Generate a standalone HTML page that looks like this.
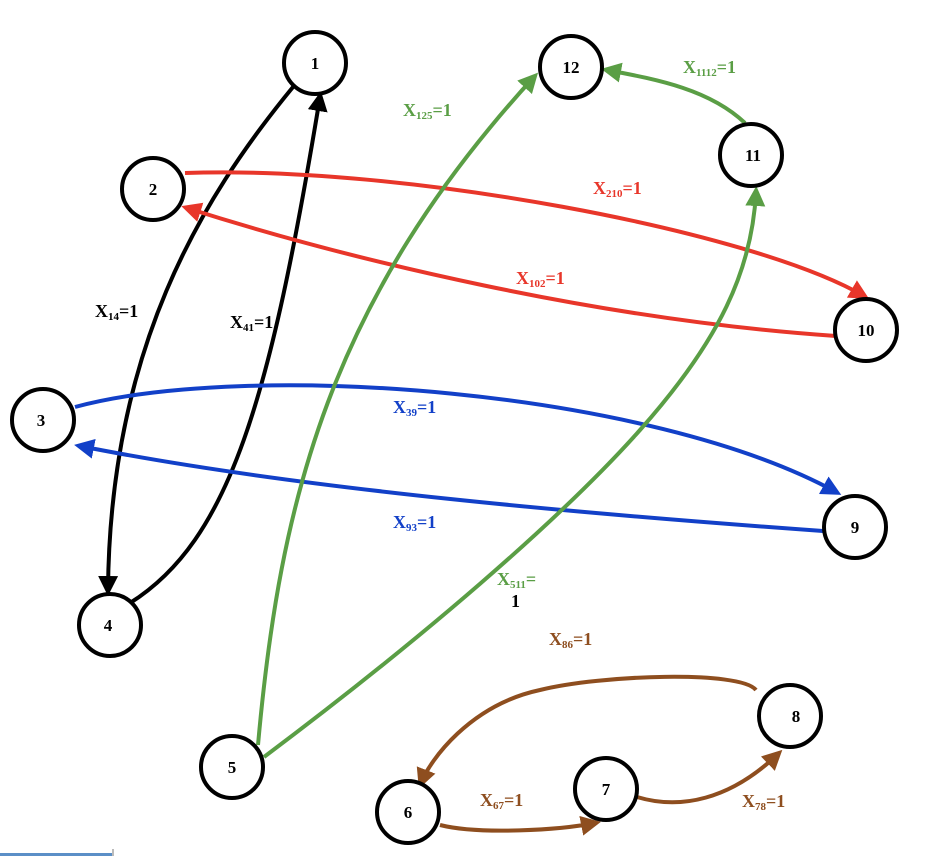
<!DOCTYPE html>
<html><head><style>
body{margin:0;background:#fff}
svg{display:block}
text{font-family:"Liberation Serif",serif;font-weight:bold}
.n{font-size:17px;text-anchor:middle}
.l{font-size:18px}
.s{font-size:11px}
</style></head><body>
<svg width="936" height="856" viewBox="0 0 936 856" xmlns="http://www.w3.org/2000/svg">
<defs>
<marker id="ak" markerWidth="5" markerHeight="5" refX="3.5" refY="2.5" orient="auto"><path d="M0,0 L5,2.5 L0,5 Z" fill="#000"/></marker>
<marker id="ar" markerWidth="5" markerHeight="5" refX="3.5" refY="2.5" orient="auto"><path d="M0,0 L5,2.5 L0,5 Z" fill="#e8362a"/></marker>
<marker id="ab" markerWidth="5" markerHeight="5" refX="3.5" refY="2.5" orient="auto"><path d="M0,0 L5,2.5 L0,5 Z" fill="#1240c8"/></marker>
<marker id="ag" markerWidth="5" markerHeight="5" refX="3.5" refY="2.5" orient="auto"><path d="M0,0 L5,2.5 L0,5 Z" fill="#5a9e45"/></marker>
<marker id="ao" markerWidth="5" markerHeight="5" refX="3.5" refY="2.5" orient="auto"><path d="M0,0 L5,2.5 L0,5 Z" fill="#8e4e1f"/></marker>
</defs>
<g fill="none" stroke-width="4">
<path d="M293,87 C200,200 110,350 108,590" stroke="#000" marker-end="url(#ak)"/>
<path d="M130,603 C230,540 270,400 320,97" stroke="#000" marker-end="url(#ak)"/>
<path d="M185,173 C400,165 750,230 864,296" stroke="#e8362a" marker-end="url(#ar)"/>
<path d="M836,336 C600,320 350,260 187,208" stroke="#e8362a" marker-end="url(#ar)"/>
<path d="M75,407 C250,360 650,390 836,492" stroke="#1240c8" marker-end="url(#ab)"/>
<path d="M823,531 C600,515 300,490 80,446" stroke="#1240c8" marker-end="url(#ab)"/>
<path d="M258,745 C280,500 330,300 534,77" stroke="#5a9e45" marker-end="url(#ag)"/>
<path d="M264,757 C420,640 560,520 640,430 C720,340 752,270 756,192" stroke="#5a9e45" marker-end="url(#ag)"/>
<path d="M745,123 C710,90 660,80 607,70" stroke="#5a9e45" marker-end="url(#ag)"/>
<path d="M756,690 C740,670 600,675 540,690 C470,705 430,760 421,783" stroke="#8e4e1f" marker-end="url(#ao)"/>
<path d="M440,825 C480,835 560,830 595,823" stroke="#8e4e1f" marker-end="url(#ao)"/>
<path d="M637,797 C680,810 730,800 778,754" stroke="#8e4e1f" marker-end="url(#ao)"/>
</g>
<g fill="#fff" stroke="#000" stroke-width="4">
<circle cx="315" cy="63" r="31"/><circle cx="571" cy="67" r="31"/><circle cx="751" cy="155" r="31"/>
<circle cx="153" cy="189" r="31"/><circle cx="866" cy="330" r="31"/><circle cx="43" cy="420" r="31"/>
<circle cx="855" cy="527" r="31"/><circle cx="110" cy="625" r="31"/><circle cx="232" cy="767" r="31"/>
<circle cx="790" cy="716" r="31"/><circle cx="606" cy="789" r="31"/><circle cx="408" cy="812" r="31"/>
</g>
<g class="n">
<text x="315" y="69" class="n">1</text><text x="571" y="73" class="n">12</text><text x="753" y="161" class="n">11</text>
<text x="153" y="195" class="n">2</text><text x="866" y="336" class="n">10</text><text x="41" y="426" class="n">3</text>
<text x="855" y="533" class="n">9</text><text x="108" y="631" class="n">4</text><text x="232" y="773" class="n">5</text>
<text x="796" y="722" class="n">8</text><text x="606" y="795" class="n">7</text><text x="408" y="818" class="n">6</text>
</g>
<text x="95" y="317" class="l">X<tspan class="s" dy="3">14</tspan><tspan dy="-3">=1</tspan></text>
<text x="230" y="328" class="l">X<tspan class="s" dy="3">41</tspan><tspan dy="-3">=1</tspan></text>
<g fill="#5a9e45">
<text x="403" y="116" class="l">X<tspan class="s" dy="3">125</tspan><tspan dy="-3">=1</tspan></text>
<text x="683" y="73" class="l">X<tspan class="s" dy="3">1112</tspan><tspan dy="-3">=1</tspan></text>
<text x="497" y="585" class="l">X<tspan class="s" dy="3">511</tspan><tspan dy="-3">=</tspan></text>
</g>
<text x="511" y="607" class="l">1</text>
<g fill="#e8362a">
<text x="593" y="194" class="l">X<tspan class="s" dy="3">210</tspan><tspan dy="-3">=1</tspan></text>
<text x="516" y="284" class="l">X<tspan class="s" dy="3">102</tspan><tspan dy="-3">=1</tspan></text>
</g>
<g fill="#1240c8">
<text x="393" y="413" class="l">X<tspan class="s" dy="3">39</tspan><tspan dy="-3">=1</tspan></text>
<text x="393" y="528" class="l">X<tspan class="s" dy="3">93</tspan><tspan dy="-3">=1</tspan></text>
</g>
<g fill="#8e4e1f">
<text x="549" y="645" class="l">X<tspan class="s" dy="3">86</tspan><tspan dy="-3">=1</tspan></text>
<text x="480" y="806" class="l">X<tspan class="s" dy="3">67</tspan><tspan dy="-3">=1</tspan></text>
<text x="742" y="807" class="l">X<tspan class="s" dy="3">78</tspan><tspan dy="-3">=1</tspan></text>
</g>
<rect x="0" y="853" width="112" height="3" fill="#5b8fc7"/>
<rect x="112" y="849" width="2" height="7" fill="#bbb"/>
</svg>
</body></html>
